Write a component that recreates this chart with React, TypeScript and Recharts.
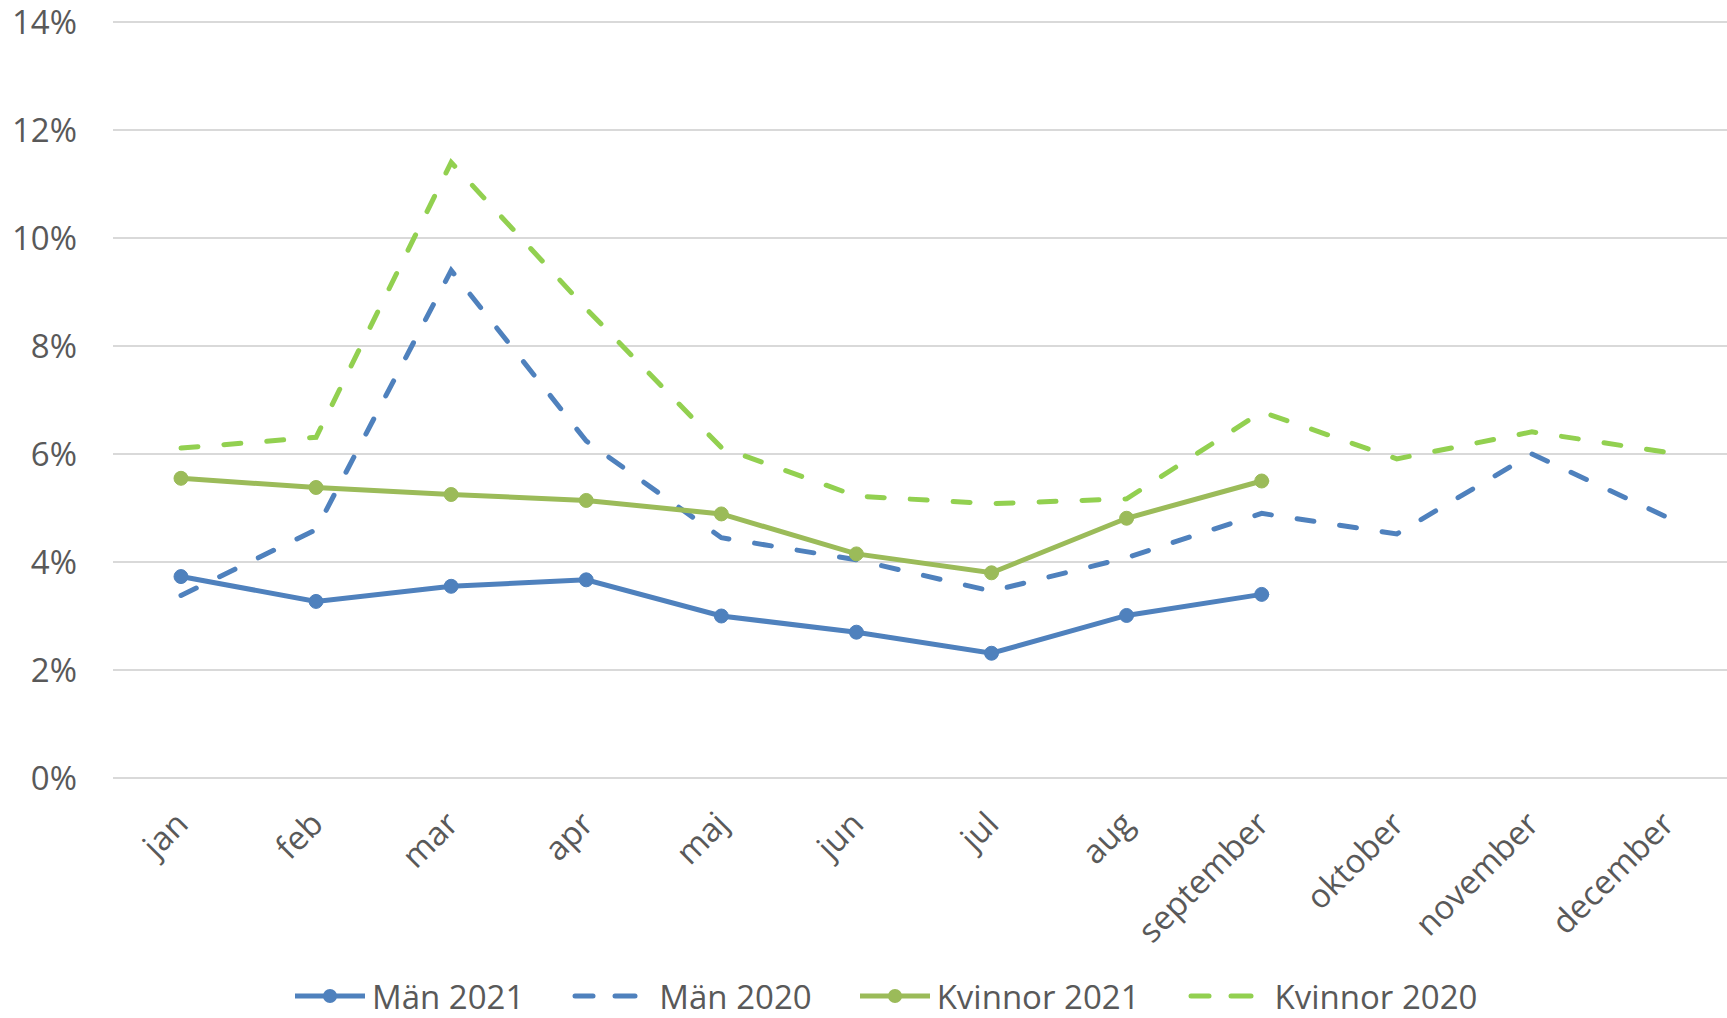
import {
  LineChart,
  Line,
  XAxis,
  YAxis,
  CartesianGrid,
  Legend,
} from "recharts";

const months = [
  "jan",
  "feb",
  "mar",
  "apr",
  "maj",
  "jun",
  "jul",
  "aug",
  "september",
  "oktober",
  "november",
  "december",
];

// andel i procent, 2021 bara t.o.m. september
const man2021 = [3.73, 3.27, 3.55, 3.67, 3.0, 2.7, 2.31, 3.01, 3.4];
const man2020 = [3.38, 4.6, 9.4, 6.24, 4.45, 4.04, 3.46, 4.08, 4.9, 4.52, 6.0, 4.83];
const kvinnor2021 = [5.55, 5.38, 5.25, 5.14, 4.89, 4.15, 3.8, 4.81, 5.5];
const kvinnor2020 = [6.11, 6.31, 11.4, 8.69, 6.12, 5.22, 5.08, 5.17, 6.78, 5.91, 6.41, 6.03];

const yTicks = [0, 2, 4, 6, 8, 10, 12, 14];

const data = months.map((m, i) => ({
  month: m,
  man2021: man2021[i] ?? null,
  man2020: man2020[i] ?? null,
  kvinnor2021: kvinnor2021[i] ?? null,
  kvinnor2020: kvinnor2020[i] ?? null,
}));

const FONT = '"Open Sans", sans-serif';
const TEXT = "#595959";
const BLUE = "#4F81BD";
const GREEN = "#9BBB59";
const LIGHT_GREEN = "#92D050";

const series = [
  { key: "man2021", name: "Män 2021", color: BLUE, dashed: false },
  { key: "man2020", name: "Män 2020", color: BLUE, dashed: true },
  { key: "kvinnor2021", name: "Kvinnor 2021", color: GREEN, dashed: false },
  { key: "kvinnor2020", name: "Kvinnor 2020", color: LIGHT_GREEN, dashed: true },
];

const MonthTick = (props: any) => {
  const { x, y, payload } = props;
  return (
    <g transform={`translate(${x + 9},${y + 40})`}>
      <text
        x={0}
        y={0}
        textAnchor="end"
        transform="rotate(-45)"
        fill={TEXT}
        fontSize={33}
        fontFamily={FONT}
      >
        {payload.value}
      </text>
    </g>
  );
};

const LegendContent = () => (
  <div
    style={{
      display: "flex",
      alignItems: "center",
      height: 44,
      paddingLeft: 295,
      fontFamily: FONT,
      fontSize: 33,
      color: TEXT,
      whiteSpace: "nowrap",
    }}
  >
    {series.map((s) => (
      <div
        key={s.key}
        style={{ display: "flex", alignItems: "center", marginRight: 48 }}
      >
        <svg width={70} height={20}>
          {s.dashed ? (
            <g stroke={s.color} strokeWidth={5} strokeLinecap="round">
              <line x1={3} y1={10} x2={21} y2={10} />
              <line x1={43} y1={10} x2={63} y2={10} />
            </g>
          ) : (
            <g>
              <line x1={0} y1={10} x2={70} y2={10} stroke={s.color} strokeWidth={5} />
              <circle cx={35} cy={10} r={7} fill={s.color} />
            </g>
          )}
        </svg>
        <span style={{ marginLeft: s.dashed ? 17 : 7 }}>{s.name}</span>
      </div>
    ))}
  </div>
);

const App = () => {
  return (
    <div style={{ position: "absolute", left: 0, top: 0 }}>
      <LineChart
        width={1727}
        height={1018}
        data={data}
        margin={{ top: 22, right: 0, left: 0, bottom: 0 }}
      >
        <CartesianGrid vertical={false} stroke="#D9D9D9" strokeWidth={2} />
        <XAxis
          dataKey="month"
          interval={0}
          axisLine={false}
          tickLine={false}
          height={196}
          padding={{ left: 68, right: 60 }}
          tick={<MonthTick />}
        />
        <YAxis
          width={113}
          domain={[0, 14]}
          ticks={yTicks}
          axisLine={false}
          tickLine={false}
          tickMargin={30}
          tickFormatter={(v: number) => `${v}%`}
          tick={{ fill: TEXT, fontSize: 33, fontFamily: FONT }}
        />
        <Legend
          verticalAlign="bottom"
          height={44}
          wrapperStyle={{ left: 0, bottom: 0, width: 1727 }}
          content={<LegendContent />}
        />
        {series.map((s) => (
          <Line
            key={s.key}
            type="linear"
            dataKey={s.key}
            name={s.name}
            stroke={s.color}
            strokeWidth={5}
            strokeDasharray={s.dashed ? "17 26" : undefined}
            strokeLinecap="round"
            dot={s.dashed ? false : { r: 7, fill: s.color, stroke: s.color, strokeWidth: 1 }}
            activeDot={false}
            connectNulls={false}
            isAnimationActive={false}
          />
        ))}
      </LineChart>
    </div>
  );
};

export default App;
